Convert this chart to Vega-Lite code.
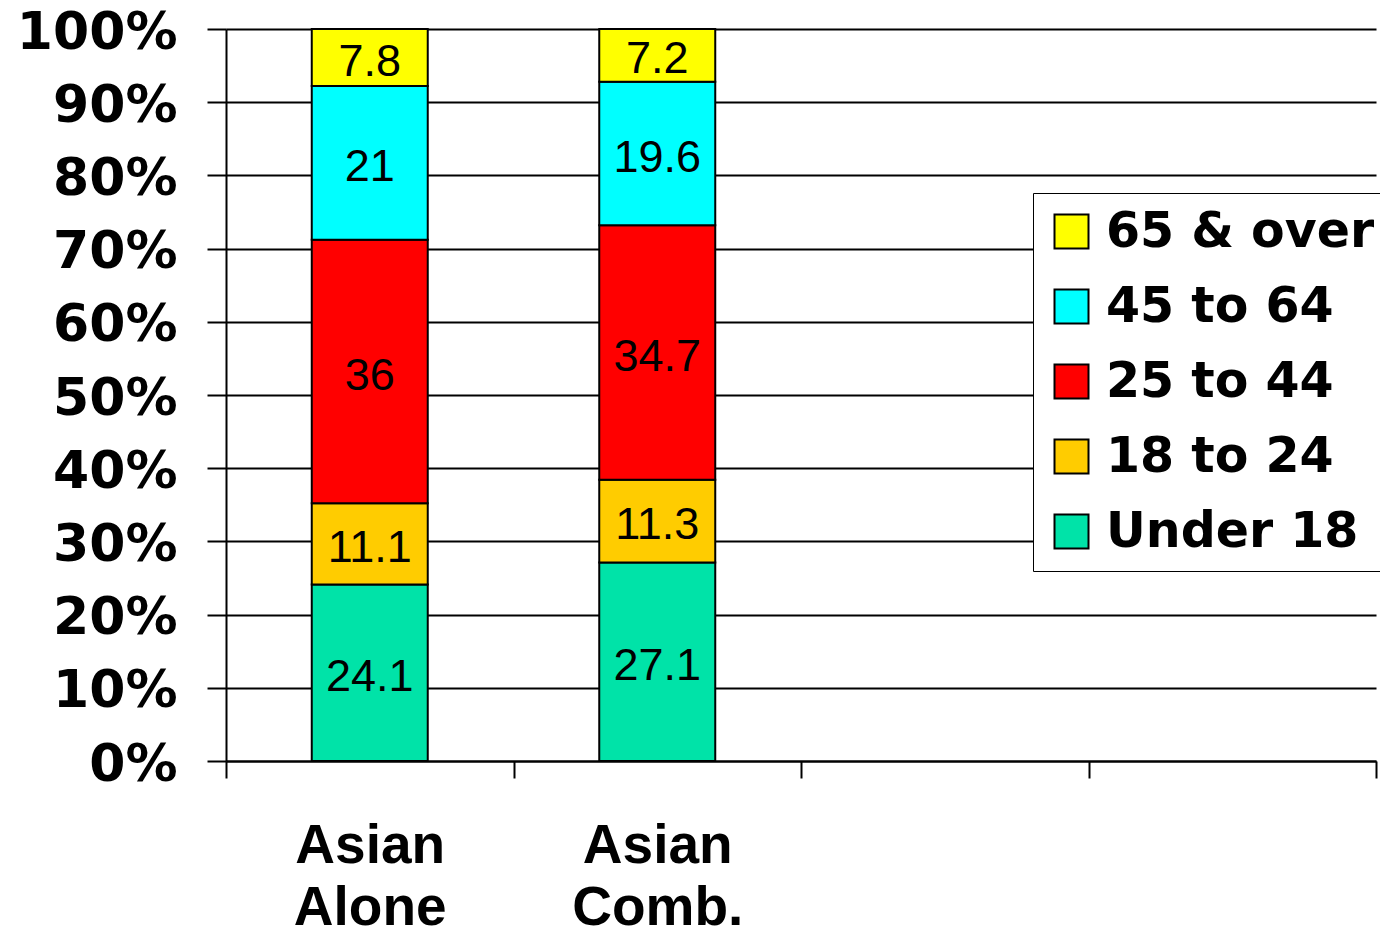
{
  "$schema": "https://vega.github.io/schema/vega-lite/v6.json",
  "width": 1150,
  "height": 732,
  "autosize": "none",
  "padding": {"left": 226, "top": 29, "right": 4, "bottom": 175},
  "background": "white",
  "config": {"view": {"stroke": null}},
  "data": {
    "values": [
      {"group": "Asian Alone", "age": "Under 18", "order": 1, "value": 24.1},
      {"group": "Asian Alone", "age": "18 to 24", "order": 2, "value": 11.1},
      {"group": "Asian Alone", "age": "25 to 44", "order": 3, "value": 36},
      {"group": "Asian Alone", "age": "45 to 64", "order": 4, "value": 21},
      {"group": "Asian Alone", "age": "65 & over", "order": 5, "value": 7.8},
      {"group": "Asian Comb.", "age": "Under 18", "order": 1, "value": 27.1},
      {"group": "Asian Comb.", "age": "18 to 24", "order": 2, "value": 11.3},
      {"group": "Asian Comb.", "age": "25 to 44", "order": 3, "value": 34.7},
      {"group": "Asian Comb.", "age": "45 to 64", "order": 4, "value": 19.6},
      {"group": "Asian Comb.", "age": "65 & over", "order": 5, "value": 7.2}
    ]
  },
  "layer": [
    {
      "mark": {"type": "bar", "width": 116, "stroke": "black", "strokeWidth": 2, "opacity": 1},
      "encoding": {
        "x": {
          "field": "group", "type": "nominal", "sort": null,
          "scale": {"domain": ["Asian Alone", "Asian Comb.", "c3", "c4"], "paddingInner": 0, "paddingOuter": 0},
          "axis": {
            "title": null, "labelAngle": 0,
            "labelExpr": "datum.value == 'Asian Alone' ? ['Asian','Alone'] : datum.value == 'Asian Comb.' ? ['Asian','Comb.'] : ''",
            "labelFont": "Liberation Sans", "labelFontWeight": "bold", "labelFontSize": 55,
            "labelLineHeight": 62, "labelPadding": 41, "labelBaseline": "top", "labelColor": "black",
            "tickBand": "extent", "tickSize": 17, "tickColor": "black", "tickWidth": 2,
            "domainColor": "black", "domainWidth": 2, "grid": false
          }
        },
        "y": {
          "field": "value", "type": "quantitative", "stack": "normalize",
          "scale": {"domain": [0, 1]},
          "axis": {
            "title": null, "values": [0, 0.1, 0.2, 0.3, 0.4, 0.5, 0.6, 0.7, 0.8, 0.9, 1],
            "format": ".0%", "labelFont": "DejaVu Sans", "labelFontWeight": "bold", "labelFontSize": 52,
            "labelColor": "black", "labelPadding": 30, "labelOffset": 3,
            "tickSize": 19, "tickColor": "black", "tickWidth": 2,
            "domainColor": "black", "domainWidth": 2,
            "grid": true, "gridColor": "black", "gridWidth": 2
          }
        },
        "order": {"field": "order", "type": "quantitative"},
        "color": {
          "field": "age", "type": "nominal",
          "scale": {
            "domain": ["65 & over", "45 to 64", "25 to 44", "18 to 24", "Under 18"],
            "range": ["#FFFF00", "#00FFFF", "#FF0000", "#FFCC00", "#00E3A8"]
          },
          "legend": {
            "orient": "none", "legendX": 807, "legendY": 164, "title": null,
            "symbolType": "square", "symbolSize": 1156, "symbolStrokeColor": "black", "symbolStrokeWidth": 2,
            "symbolOpacity": 1, "labelFont": "DejaVu Sans", "labelFontWeight": "bold", "labelFontSize": 49,
            "labelColor": "black", "labelOffset": 10, "rowPadding": 25, "padding": 14,
            "strokeColor": "black", "fillColor": "white", "labelLimit": 0
          }
        }
      }
    },
    {
      "mark": {"type": "text", "font": "Liberation Sans", "fontSize": 45, "color": "black", "baseline": "middle", "align": "center", "dy": 4},
      "encoding": {
        "x": {"field": "group", "type": "nominal", "sort": null},
        "y": {"field": "value", "type": "quantitative", "stack": "normalize", "bandPosition": 0.5},
        "order": {"field": "order", "type": "quantitative"},
        "detail": {"field": "age", "type": "nominal"},
        "text": {"field": "value", "type": "nominal"}
      }
    }
  ]
}
